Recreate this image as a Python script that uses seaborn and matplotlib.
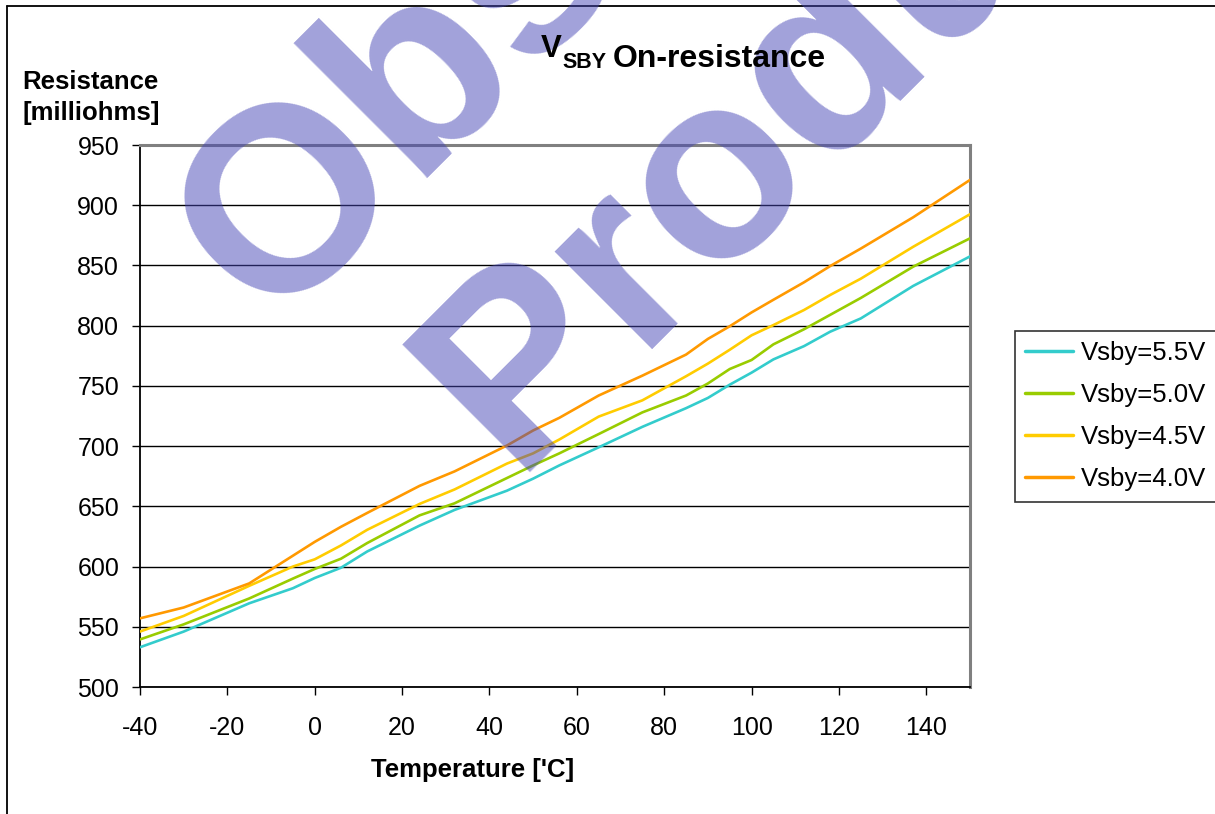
import matplotlib
matplotlib.use("Agg")
import matplotlib.pyplot as plt
from matplotlib.lines import Line2D
import seaborn as sns
import pandas as pd

# ---- data ----
temps = [-40, -30, -15, -5, 0, 6, 12, 24, 32, 44, 50, 56, 65, 75, 85, 90, 95,
         100, 105, 112, 118, 125, 137, 150]
r_55 = [533, 546, 569.5, 582, 590.5, 599, 612.5, 634, 647, 663, 673, 684, 699,
        716, 731.5, 740, 751, 761, 772, 783, 795, 806, 833, 857.5]
r_50 = [539.5, 552, 573.5, 590, 598, 606.5, 619.5, 642.5, 652.5, 673.5, 684,
        694, 710, 728, 742, 752, 764, 771.5, 784.5, 797, 809, 823, 849, 872.5]
r_45 = [546, 559, 584, 600, 606, 617.5, 630.5, 652, 664, 685.5, 694, 705.5,
        724.5, 738, 758, 768.5, 780, 792, 800.5, 813, 825.5, 839, 865.5, 892.5]
r_40 = [557, 566, 586, 609, 620.5, 633, 644.5, 667, 679, 700.5, 713, 723.5,
        742, 758.5, 776, 789, 799.5, 811, 821.5, 836, 849.5, 864, 890, 921]
series_labels = ["Vsby=5.5V", "Vsby=5.0V", "Vsby=4.5V", "Vsby=4.0V"]
series_colors = ["#33CCCC", "#99CC00", "#FFCC00", "#FF9900"]
x_ticks = [-40, -20, 0, 20, 40, 60, 80, 100, 120, 140]
y_ticks = [500, 550, 600, 650, 700, 750, 800, 850, 900, 950]

frames = []
for lab, vals in zip(series_labels, [r_55, r_50, r_45, r_40]):
    frames.append(pd.DataFrame({"T": temps, "R": vals, "series": lab}))
df = pd.concat(frames, ignore_index=True)

sns.set_style("white")
plt.rcParams["font.family"] = ["Liberation Sans", "DejaVu Sans"]
plt.rcParams["text.color"] = "black"
plt.rcParams["axes.labelcolor"] = "black"
plt.rcParams["xtick.color"] = "black"
plt.rcParams["ytick.color"] = "black"

W, H = 1215, 814
fig = plt.figure(figsize=(W / 100, H / 100), dpi=100)
fig.patch.set_facecolor("white")
ax = fig.add_axes([140 / W, 1 - 687 / H, (970 - 140) / W, (687 - 145) / H])

sns.lineplot(data=df, x="T", y="R", hue="series", hue_order=series_labels,
             palette=dict(zip(series_labels, series_colors)), linewidth=1.9,
             legend=False, ax=ax, zorder=3)

ax.set_xlim(-40, 150)
ax.set_ylim(500, 950)
ax.set_xticks(x_ticks)
ax.set_yticks(y_ticks)
ax.set_xticklabels([str(t) for t in x_ticks])
ax.set_yticklabels([str(t) for t in y_ticks])
ax.yaxis.grid(True, color="black", linewidth=1.0, zorder=1)
ax.xaxis.grid(False)
ax.set_axisbelow(True)
ax.set_xlabel("")
ax.set_ylabel("")
ax.tick_params(axis="both", which="major", direction="out", length=6, width=1,
               color="black", labelsize=18, labelcolor="black", bottom=True, left=True)
ax.tick_params(axis="y", pad=9)
ax.tick_params(axis="x", pad=15)
for s in ["left", "bottom"]:
    ax.spines[s].set_color("black")
    ax.spines[s].set_linewidth(1.3)
for s in ["top", "right"]:
    ax.spines[s].set_color("#808080")
    ax.spines[s].set_linewidth(2.2)

# legend
handles = [Line2D([0], [0], color=c, linewidth=2.5) for c in series_colors]
leg = ax.legend(handles, series_labels, loc="upper left",
                bbox_to_anchor=(1015 / W, 1 - 331 / H), bbox_transform=fig.transFigure,
                frameon=True, fancybox=False, edgecolor="black", fontsize=18.5,
                handlelength=1.85, handletextpad=0.3, borderpad=0.4,
                labelspacing=0.7, borderaxespad=0)
leg.get_frame().set_linewidth(1.2)

# watermark
wm_color = (0.27, 0.27, 0.71)
fig.text(269 / W, 1 - 326 / H, "Obsolete", fontsize=188, fontweight="bold", color=wm_color,
         alpha=0.5, rotation=45, rotation_mode="anchor", ha="left", va="baseline", zorder=10)
fig.text(512 / W, 1 - 472 / H, "Product", fontsize=188, fontweight="bold", color=wm_color,
         alpha=0.5, rotation=45, rotation_mode="anchor", ha="left", va="baseline", zorder=10)

# title pieces (drawn above watermark)
fig.text(541 / W, 1 - 57 / H, "V", fontsize=22.5, fontweight="bold", ha="left", va="baseline", zorder=20)
fig.text(562 / W, 1 - 68 / H, "SBY", fontsize=15.5, fontweight="bold", ha="left", va="baseline", zorder=20)
fig.text(613 / W, 1 - 67 / H, "On-resistance", fontsize=23, fontweight="bold", ha="left", va="baseline", zorder=20)

# axis titles
fig.text(22 / W, 1 - 89 / H, "Resistance", fontsize=18.5, fontweight="bold", ha="left", va="baseline")
fig.text(22 / W, 1 - 120 / H, "[milliohms]", fontsize=18.5, fontweight="bold", ha="left", va="baseline")
fig.text(472.5 / W, 1 - 777 / H, "Temperature ['C]", fontsize=18.5, fontweight="bold", ha="center", va="baseline")

# outer chart border
fig.add_artist(Line2D([7 / W, 7 / W], [0, 1 - 6 / H], transform=fig.transFigure, color="black", linewidth=1.3))
fig.add_artist(Line2D([7 / W, 1], [1 - 6 / H, 1 - 6 / H], transform=fig.transFigure, color="black", linewidth=1.3))

fig.savefig("out.png", dpi=100, facecolor="white")
